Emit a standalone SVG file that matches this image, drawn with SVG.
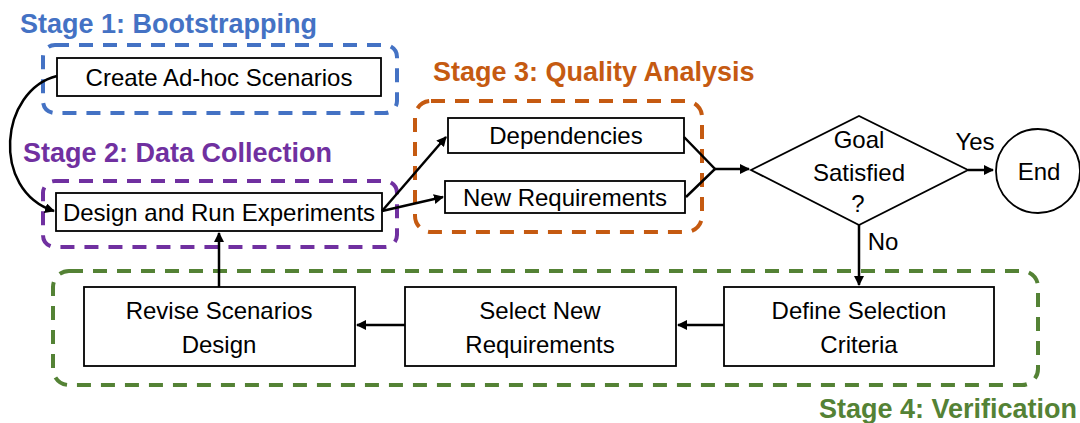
<svg xmlns="http://www.w3.org/2000/svg" width="1080" height="423" viewBox="0 0 1080 423">
<style>
.t{font-family:"Liberation Sans",Arial,sans-serif;font-size:24px;fill:#000;text-anchor:middle}
.st{font-family:"Liberation Sans",Arial,sans-serif;font-size:27px;font-weight:bold}
.box{fill:#fff;stroke:#000;stroke-width:1.8}
.grp{fill:none;stroke-width:4;stroke-dasharray:14 10}
.ln{fill:none;stroke:#000;stroke-width:2.5}
</style>
<defs>
<marker id="ah" viewBox="0 0 10 10" refX="9" refY="5" markerWidth="4" markerHeight="4" orient="auto" markerUnits="strokeWidth">
<path d="M0,0 L10,5 L0,10 z" fill="#000"/>
</marker>
</defs>

<g id="stage1">
<text class="st" x="20" y="33" fill="#4472C4">Stage 1: Bootstrapping</text>
<rect class="grp" x="43" y="45" width="354" height="68" rx="12" stroke="#4472C4"/>
</g>
<g id="stage2">
<text class="st" x="23" y="162" fill="#7030A0">Stage 2: Data Collection</text>
<rect class="grp" x="43" y="181" width="354" height="66" rx="12" stroke="#7030A0"/>
</g>
<g id="stage3">
<text class="st" x="433" y="81" fill="#C55A11">Stage 3: Quality Analysis</text>
<rect class="grp" x="415" y="101" width="287" height="131" rx="16" stroke="#C55A11"/>
</g>
<g id="stage4">
<rect class="grp" x="53" y="271" width="985" height="114" rx="16" stroke="#548235"/>
<text class="st" x="1077" y="418" fill="#548235" text-anchor="end">Stage 4: Verification</text>
</g>

<g id="create">
<rect class="box" x="57" y="58" width="324" height="38"/>
<text class="t" x="219" y="86">Create Ad-hoc Scenarios</text>
</g>
<g id="design">
<rect class="box" x="56" y="193" width="326" height="38"/>
<text class="t" x="219" y="221">Design and Run Experiments</text>
</g>
<g id="dependencies">
<rect class="box" x="448" y="118" width="236" height="35"/>
<text class="t" x="566" y="144">Dependencies</text>
</g>
<g id="newreq">
<rect class="box" x="445" y="181" width="240" height="32"/>
<text class="t" x="565" y="206">New Requirements</text>
</g>
<g id="goal">
<polygon points="751,170 859,116 968,170 859,225" fill="#fff" stroke="#000" stroke-width="1.8"/>
<text class="t" x="859" y="148">Goal</text>
<text class="t" x="859" y="181">Satisfied</text>
<text class="t" x="858" y="212">?</text>
</g>
<g id="end">
<circle cx="1038" cy="171" r="42" fill="#fff" stroke="#000" stroke-width="1.8"/>
<text class="t" x="1039" y="180">End</text>
</g>
<g id="revise">
<rect class="box" x="84" y="287" width="271" height="79"/>
<text class="t" x="219" y="319">Revise Scenarios</text>
<text class="t" x="219" y="353">Design</text>
</g>
<g id="select">
<rect class="box" x="405" y="287" width="271" height="79"/>
<text class="t" x="540" y="319">Select New</text>
<text class="t" x="540" y="353">Requirements</text>
</g>
<g id="define">
<rect class="box" x="724" y="287" width="270" height="79"/>
<text class="t" x="859" y="319">Define Selection</text>
<text class="t" x="859" y="353">Criteria</text>
</g>

<g id="connectors">
<path class="ln" d="M57,76 C0,90 -10,190 54,211" stroke-width="2" marker-end="url(#ah)"/>
<line class="ln" x1="382" y1="211" x2="446" y2="137" marker-end="url(#ah)"/>
<line class="ln" x1="382" y1="211" x2="443" y2="197" marker-end="url(#ah)"/>
<polyline class="ln" points="684,137 715,169 686,197" stroke-width="3"/>
<line class="ln" x1="715" y1="169" x2="749" y2="169" stroke-width="3" marker-end="url(#ah)"/>
<line class="ln" x1="968" y1="170" x2="993" y2="170" stroke-width="3" marker-end="url(#ah)"/>
<text class="t" x="975" y="150">Yes</text>
<line class="ln" x1="859" y1="225" x2="859" y2="285" stroke-width="2" marker-end="url(#ah)"/>
<text class="t" x="883" y="250">No</text>
<line class="ln" x1="724" y1="325" x2="678" y2="325" stroke-width="3" marker-end="url(#ah)"/>
<line class="ln" x1="405" y1="325" x2="357" y2="325" stroke-width="3" marker-end="url(#ah)"/>
<line class="ln" x1="219" y1="287" x2="219" y2="233" stroke-width="2" marker-end="url(#ah)"/>
</g>
</svg>
